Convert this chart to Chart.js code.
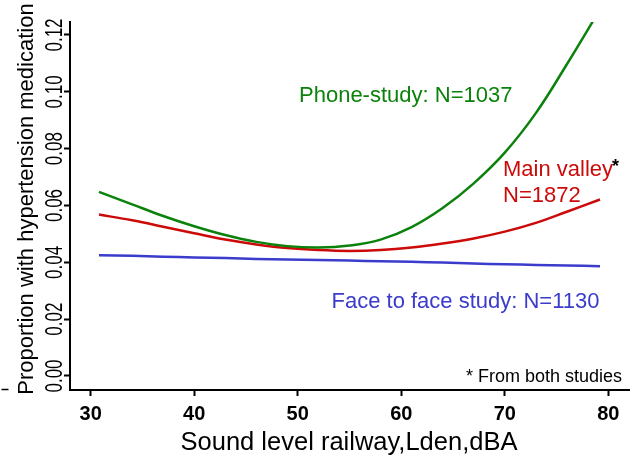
<!DOCTYPE html>
<html>
<head>
<meta charset="utf-8">
<script src="https://cdn.jsdelivr.net/npm/chart.js@4.4.0/dist/chart.umd.min.js"></script>
<style>
    body { margin: 0; background: #ffffff; }
    canvas { display: block; }
</style>
</head>
<body>
<canvas id="grafico" width="632" height="457"></canvas>
<script>

// Sound level railway (Lden, dBA) where each curve is read
const soundLevels = [30.8, 34, 37, 40, 43, 46, 49, 52, 55, 58, 61, 64, 67, 70, 73, 76, 79.2];

// Proportion with hypertension medication
const phoneStudy = [0.0648, 0.0604, 0.0563, 0.0527, 0.0496, 0.0472, 0.0457, 0.0452, 0.0459, 0.0480, 0.0524, 0.0591, 0.0678, 0.0786, 0.0925, 0.1097, 0.1290];
const mainValley = [0.0568, 0.0548, 0.0525, 0.0502, 0.0480, 0.0463, 0.0450, 0.0443, 0.0440, 0.0443, 0.0452, 0.0466, 0.0484, 0.0508, 0.0539, 0.0578, 0.0621];
const faceToFace = [0.0425, 0.0423, 0.0420, 0.0417, 0.0415, 0.0412, 0.0410, 0.0408, 0.0406, 0.0404, 0.0402, 0.0399, 0.0396, 0.0393, 0.0391, 0.0389, 0.0386];

const xTicks = [30, 40, 50, 60, 70, 80];
const yTicks = [0.00, 0.02, 0.04, 0.06, 0.08, 0.10, 0.12];

const xTitle = 'Sound level railway,Lden,dBA';
const yTitle = 'Proportion with hypertension medication';
const footNote = '* From both studies';

const verde = '#0b820b';
const rojo = '#cc0a0a';
const azul = '#3b3bcc';
const fuente = '"Liberation Sans", Arial, sans-serif';

let chart = null;


document.addEventListener('DOMContentLoaded', function() {
    createChart();
});


function toPoints(values) {
    return values.map((v, i) => ({ x: soundLevels[i], y: v }));
}


function drawText(ctx, text, x, y, opts) {
    ctx.save();
    ctx.font = opts.font;
    ctx.fillStyle = opts.color || '#000000';
    ctx.textAlign = opts.align || 'left';
    ctx.textBaseline = 'alphabetic';
    ctx.translate(x, y);
    if (opts.angle) {
        ctx.rotate(opts.angle);
    }
    if (opts.stretch) {
        ctx.scale(opts.stretch, 1);
    }
    ctx.fillText(text, 0, 0);
    ctx.restore();
}


const textosPlugin = {
    id: 'textos',
    afterDraw(chart) {
        const ctx = chart.ctx;
        const sx = chart.scales.x;
        const sy = chart.scales.y;

        // y tick labels, rotated
        yTicks.forEach(v => {
            drawText(ctx, v.toFixed(2), 61.5, sy.getPixelForValue(v), {
                font: '23px ' + fuente, align: 'center', angle: -Math.PI / 2, stretch: 0.74
            });
        });

        // x tick labels
        xTicks.forEach(v => {
            drawText(ctx, String(v), sx.getPixelForValue(v), 420, {
                font: 'bold 20px ' + fuente, align: 'center'
            });
        });

        drawText(ctx, yTitle, 33, 199, { font: '22px ' + fuente, align: 'center', angle: -Math.PI / 2 });
        drawText(ctx, xTitle, 349, 450, { font: '25.5px ' + fuente, align: 'center' });

        drawText(ctx, 'Phone-study: N=1037', 299, 102, { font: '22px ' + fuente, color: verde });
        drawText(ctx, 'Main valley', 503, 176, { font: '22px ' + fuente, color: rojo });
        drawText(ctx, 'N=1872', 503, 201.5, { font: '22px ' + fuente, color: rojo });
        drawText(ctx, '*', 612, 172, { font: 'bold 18px ' + fuente });
        drawText(ctx, 'Face to face study: N=1130', 331.5, 308, { font: '22px ' + fuente, color: azul });
        drawText(ctx, footNote, 622, 381.5, { font: '18px ' + fuente, align: 'right' });

        // small stray dash at the far left
        ctx.save();
        ctx.strokeStyle = '#000000';
        ctx.lineWidth = 1.5;
        ctx.beginPath();
        ctx.moveTo(1.5, 389.5);
        ctx.lineTo(8.5, 389.5);
        ctx.stroke();
        ctx.restore();
    }
};


function createChart() {
    const ctx = document.getElementById('grafico').getContext('2d');

    const linea = {
        showLine: true,
        fill: false,
        borderWidth: 2.5,
        pointRadius: 0,
        pointHoverRadius: 0,
        tension: 0.4
    };

    chart = new Chart(ctx, {
        type: 'scatter',
        data: {
            datasets: [
                Object.assign({ label: 'Phone-study: N=1037', data: toPoints(phoneStudy), borderColor: verde }, linea),
                Object.assign({ label: 'Main valley N=1872', data: toPoints(mainValley), borderColor: rojo }, linea),
                Object.assign({ label: 'Face to face study: N=1130', data: toPoints(faceToFace), borderColor: azul }, linea)
            ]
        },
        options: {
            responsive: false,
            animation: false,
            layout: {
                padding: { top: 22, right: 3, bottom: 0, left: 0 }
            },
            plugins: {
                legend: { display: false },
                tooltip: { enabled: false }
            },
            scales: {
                x: {
                    type: 'linear',
                    min: 28,
                    max: 82,
                    afterBuildTicks: function(scale) {
                        scale.ticks = xTicks.map(v => ({ value: v }));
                    },
                    afterFit: function(scale) {
                        scale.height = 67;
                    },
                    ticks: { display: false },
                    grid: {
                        drawOnChartArea: false,
                        drawTicks: true,
                        tickLength: 6,
                        tickWidth: 2,
                        tickColor: '#000000'
                    },
                    border: { color: '#000000', width: 2 }
                },
                y: {
                    type: 'linear',
                    min: -0.00493,
                    max: 0.12457,
                    afterBuildTicks: function(scale) {
                        scale.ticks = yTicks.map(v => ({ value: v }));
                    },
                    afterFit: function(scale) {
                        scale.width = 70;
                    },
                    ticks: { display: false },
                    grid: {
                        drawOnChartArea: false,
                        drawTicks: true,
                        tickLength: 6,
                        tickWidth: 2,
                        tickColor: '#000000'
                    },
                    border: { color: '#000000', width: 2 }
                }
            }
        },
        plugins: [textosPlugin]
    });
}

</script>
</body>
</html>
